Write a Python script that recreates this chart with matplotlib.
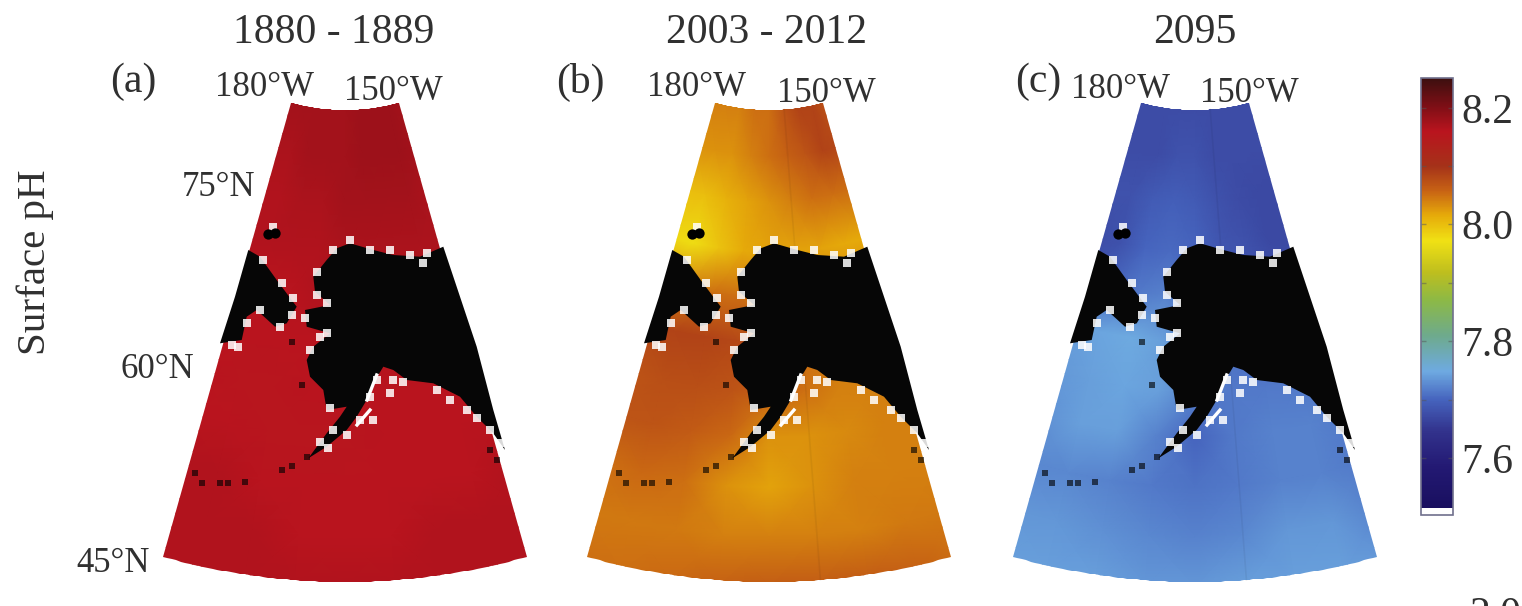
import numpy as np
import matplotlib
matplotlib.use("Agg")
import matplotlib.pyplot as plt
from matplotlib.colors import LinearSegmentedColormap, Normalize
from matplotlib.patches import Polygon

W, H = 1522, 606
SERIF = ["Liberation Serif", "DejaVu Serif"]
INK = "#303030"

# ---------- data ----------
titles = ["1880 - 1889", "2003 - 2012", "2095"]
panel_tags = ["(a)", "(b)", "(c)"]
lon_labels = ["180°W", "150°W"]
lat_labels = ["75°N", "60°N", "45°N"]
cbar_ticks = [7.6, 7.8, 8.0, 8.2]
cbar_minor = [7.7, 7.9, 8.1]

# grid nodes of the fan-shaped map (angle about the pole, radius from the pole)
grid_theta = [-17, -12.75, -8.5, -4.25, 0, 4.25, 8.5, 12.75, 17]
grid_radius = [198, 245, 290, 340, 385, 430, 480, 525, 575, 625, 675]

ph_a = [
    [8.175, 8.175, 8.175, 8.175, 8.175, 8.18, 8.18, 8.18, 8.175],
    [8.17, 8.17, 8.175, 8.175, 8.175, 8.18, 8.18, 8.18, 8.175],
    [8.165, 8.165, 8.17, 8.17, 8.175, 8.175, 8.175, 8.175, 8.17],
    [8.165, 8.165, 8.165, 8.165, 8.17, 8.17, 8.17, 8.17, 8.17],
    [8.16, 8.16, 8.16, 8.165, 8.165, 8.165, 8.165, 8.165, 8.165],
    [8.16, 8.16, 8.16, 8.16, 8.165, 8.165, 8.165, 8.165, 8.165],
    [8.16, 8.155, 8.155, 8.16, 8.16, 8.16, 8.16, 8.16, 8.16],
    [8.16, 8.16, 8.155, 8.155, 8.155, 8.16, 8.16, 8.16, 8.16],
    [8.165, 8.165, 8.16, 8.16, 8.16, 8.16, 8.16, 8.16, 8.165],
    [8.165, 8.165, 8.165, 8.16, 8.16, 8.16, 8.165, 8.165, 8.165],
    [8.165, 8.165, 8.165, 8.165, 8.165, 8.165, 8.165, 8.165, 8.165],
]
ph_b = [
    [8.04, 8.04, 8.04, 8.05, 8.05, 8.07, 8.085, 8.085, 8.07],
    [8.03, 8.03, 8.03, 8.04, 8.05, 8.06, 8.07, 8.085, 8.08],
    [8.0, 8.0, 8.01, 8.02, 8.03, 8.04, 8.05, 8.05, 8.05],
    [7.98, 7.975, 7.995, 8.015, 8.02, 8.02, 8.02, 8.015, 8.015],
    [8.03, 8.04, 8.05, 8.05, 8.04, 8.04, 8.04, 8.04, 8.04],
    [8.08, 8.085, 8.085, 8.08, 8.07, 8.05, 8.04, 8.04, 8.04],
    [8.07, 8.075, 8.075, 8.07, 8.06, 8.05, 8.04, 8.04, 8.04],
    [8.07, 8.07, 8.065, 8.055, 8.03, 8.03, 8.035, 8.04, 8.04],
    [8.05, 8.055, 8.05, 8.03, 8.02, 8.03, 8.04, 8.04, 8.04],
    [8.045, 8.045, 8.045, 8.04, 8.04, 8.04, 8.04, 8.045, 8.045],
    [8.05, 8.05, 8.055, 8.06, 8.065, 8.065, 8.065, 8.06, 8.05],
]
ph_c = [
    [7.675, 7.675, 7.675, 7.675, 7.675, 7.675, 7.675, 7.675, 7.675],
    [7.675, 7.675, 7.675, 7.68, 7.68, 7.675, 7.675, 7.675, 7.675],
    [7.68, 7.68, 7.69, 7.695, 7.69, 7.68, 7.675, 7.67, 7.67],
    [7.675, 7.68, 7.70, 7.705, 7.70, 7.685, 7.68, 7.67, 7.67],
    [7.68, 7.70, 7.715, 7.72, 7.71, 7.70, 7.69, 7.68, 7.68],
    [7.74, 7.745, 7.75, 7.74, 7.72, 7.71, 7.70, 7.70, 7.70],
    [7.735, 7.74, 7.745, 7.74, 7.72, 7.715, 7.715, 7.715, 7.71],
    [7.73, 7.74, 7.74, 7.72, 7.70, 7.715, 7.72, 7.72, 7.715],
    [7.725, 7.725, 7.72, 7.715, 7.71, 7.715, 7.72, 7.72, 7.715],
    [7.735, 7.735, 7.73, 7.725, 7.72, 7.725, 7.735, 7.735, 7.72],
    [7.74, 7.74, 7.74, 7.735, 7.735, 7.74, 7.74, 7.74, 7.735],
]
fields = [ph_a, ph_b, ph_c]

# coastlines in map units (east, south of the map centre line)
alaska_x = [98.3, 115, 131.7, 148.3, 160, 148.3, 131.7, 115, 101.7, 88.3, 61.7, 48.3, 38.3,
            28.3, 21.7, 11.7, 1.7, -18.3, -36.7, -18.3, -5, 1.7, -18.3, -21.7, -35, -38.3,
            -31.7, -15, -38.3, -40, -15, -30, -31.7, -18.3, -8.3, 5, 28.3, 48.3, 75]
alaska_y = [246.7, 296.7, 346.7, 410, 450, 433.3, 416.7, 396.7, 390, 383.3, 380, 370, 366.7,
            383.3, 400, 416.7, 430, 446.7, 458.3, 433.3, 416.7, 406.7, 410, 390, 376.7, 360,
            346.7, 333.3, 326.7, 310, 305, 291.7, 276.7, 260, 248.3, 243.3, 250, 255, 256.7]
siberia_x = [-96.7, -85, -68.3, -48.3, -58.3, -70, -88.3, -98.3, -103.3, -125, -110]
siberia_y = [250, 256.7, 280, 306.7, 323.3, 326.7, 310, 316.7, 340, 343.3, 296.7]
masked_cell_x = [5, -11.7, 25, 45, 65, 81.7, 78.3, -28.3, -28.3, -18.3, -40, -25, -18.3, -35,
                 -15, 48.3, 58.3, 45, 28.3, 15, 25, 31.7, -11.7, 1.7, -16.7, -25, 91.7, 105,
                 121.7, 131.7, 145, 155, -81.7, -63.3, -51.7, -53.3, -65, -85, -98.3, -113.3,
                 -106.7, -71.7]
masked_cell_y = [240, 250, 250, 250, 255, 253.3, 263.3, 271.7, 295, 303.3, 318.3, 336.7, 333.3,
                 350, 408.3, 380, 381.7, 393.3, 420, 420, 396.7, 380, 430, 435, 448.3, 441.7,
                 390, 400, 410, 418.3, 430, 443.3, 260, 283.3, 298.3, 315, 326.7, 310, 323.3,
                 345, 346.7, 226.7]
inlet_x = [31.7, 22, 25, 12]
inlet_y = [375, 400, 410, 425]
island_x = [-53.3, -43.3, -63.3, -53.3, -38.3, -150, -143.3, -125, -116.7, -100, 145, 151.7]
island_y = [341.7, 385, 470, 466, 457.3, 473.3, 483.3, 483.3, 483.3, 481.7, 450, 460]
big_island_x = [-77, -70]
big_island_y = [234, 233]
meridian_theta = [4.4]

# colour scale
ph_stops = [7.514, 7.584, 7.645, 7.70, 7.748, 7.81, 7.87, 7.918, 7.972, 8.016, 8.057, 8.10, 8.16, 8.20, 8.251]
rgb_stops = [(25, 15, 95), (35, 25, 115), (50, 50, 140), (70, 100, 190), (110, 170, 225),
             (110, 170, 140), (140, 185, 70), (190, 190, 30), (240, 225, 20), (230, 170, 10),
             (200, 100, 20), (165, 50, 25), (185, 20, 30), (130, 15, 22), (60, 15, 15)]

# ---------- layout ----------
POLE_Y = -88
HALF_ANGLE = 15.8
R_TOP, R_BOTTOM = 198, 670
panel_centres = [345, 769, 1195]
lon_label_px = [[(264, 88), (393, 91)], [(697, 88), (826, 93)], [(1120, 90), (1249, 93)]]
title_px = [(334, 33), (766, 33), (1195, 33)]
tag_px = [(133, 82), (580, 82), (1038, 82)]
lat_label_px = [(218, 187), (157, 369), (113, 563)]

low, high = ph_stops[0], ph_stops[-1]
cmap = LinearSegmentedColormap.from_list(
    "ph", [((v - low) / (high - low), tuple(c / 255 for c in rgb)) for v, rgb in zip(ph_stops, rgb_stops)], N=512)
cmap.set_under("white")
norm = Normalize(low, high)

fig = plt.figure(figsize=(W / 100, H / 100), dpi=100)


def label(px, s, size, **kw):
    fig.text(px[0] / W, 1 - px[1] / H, s, family=SERIF, fontsize=size, color=INK,
             ha="center", va="center", **kw)


def polar_to_map(theta_deg, radius):
    t = np.radians(theta_deg)
    return radius * np.sin(t), POLE_Y + radius * np.cos(t)


mesh = None
for i, field in enumerate(fields):
    cx = panel_centres[i]
    ax = fig.add_axes([(cx - 200) / W, 1 - 595 / H, 400 / W, 505 / H])
    ax.set_xlim(-200, 200)
    ax.set_ylim(595, 90)
    ax.axis("off")
    ax.patch.set_alpha(0)

    T, R = np.meshgrid(grid_theta, grid_radius)
    X, Y = polar_to_map(T, R)
    mesh = ax.pcolormesh(X, Y, np.array(field), shading="gouraud", cmap=cmap, norm=norm)

    arc = np.linspace(-HALF_ANGLE, HALF_ANGLE, 80)
    xo, yo = polar_to_map(arc, R_BOTTOM)
    xi, yi = polar_to_map(arc[::-1], R_TOP)
    clip = Polygon(np.column_stack([np.r_[xo, xi], np.r_[yo, yi]]), transform=ax.transData,
                   fc="none", ec="none")
    ax.add_patch(clip)
    mesh.set_clip_path(clip)

    if i > 0:
        for th in meridian_theta:
            mx, my = polar_to_map(np.array([th, th]), np.array([R_TOP, R_BOTTOM]))
            ax.plot(mx, my, color="#000000", alpha=0.05, lw=1.2, zorder=2)

    ax.fill(alaska_x, alaska_y, color="#060606", lw=0, zorder=3)
    ax.fill(siberia_x, siberia_y, color="#060606", lw=0, zorder=3)
    ax.scatter(masked_cell_x, masked_cell_y, marker="s", s=40, color="white", alpha=0.85, lw=0, zorder=4)
    ax.plot(inlet_x[:2], inlet_y[:2], color="white", lw=2.4, zorder=4)
    ax.plot(inlet_x[2:], inlet_y[2:], color="white", lw=2.4, zorder=4)
    ax.scatter(island_x, island_y, marker="s", s=20, color="black", alpha=0.62, lw=0, zorder=4)
    ax.scatter(big_island_x, big_island_y, marker="o", s=55, color="black", lw=0, zorder=5)

    label(title_px[i], titles[i], 30)
    label(tag_px[i], panel_tags[i], 30)
    for s, px in zip(lon_labels, lon_label_px[i]):
        label(px, s, 25)

for s, px in zip(lat_labels, lat_label_px):
    label(px, s, 25)
label((35, 262), "Surface pH", 29.5, rotation=90)

cax = fig.add_axes([1421 / W, 1 - 515 / H, 32 / W, 437 / H])
cbar = fig.colorbar(mesh, cax=cax, extend="min", extendrect=True, extendfrac=0.016)
cbar.set_ticks(cbar_ticks, labels=[f"{v:.1f}" for v in cbar_ticks], family=SERIF, fontsize=30, color=INK)
cbar.set_ticks(cbar_minor, minor=True)
cax.tick_params(which="both", direction="in", length=3.5, width=1, left=True, right=True,
                color="#55555580", pad=6)
cbar.outline.set_edgecolor("#70708c")
cbar.outline.set_linewidth(1.2)

# cut-off label at the lower right edge of the source figure
fig.text(1495 / W, 1 - 596 / H, "2.0", family=SERIF, fontsize=30, color=INK, ha="center", va="top")

fig.savefig("out.png", dpi=100)
